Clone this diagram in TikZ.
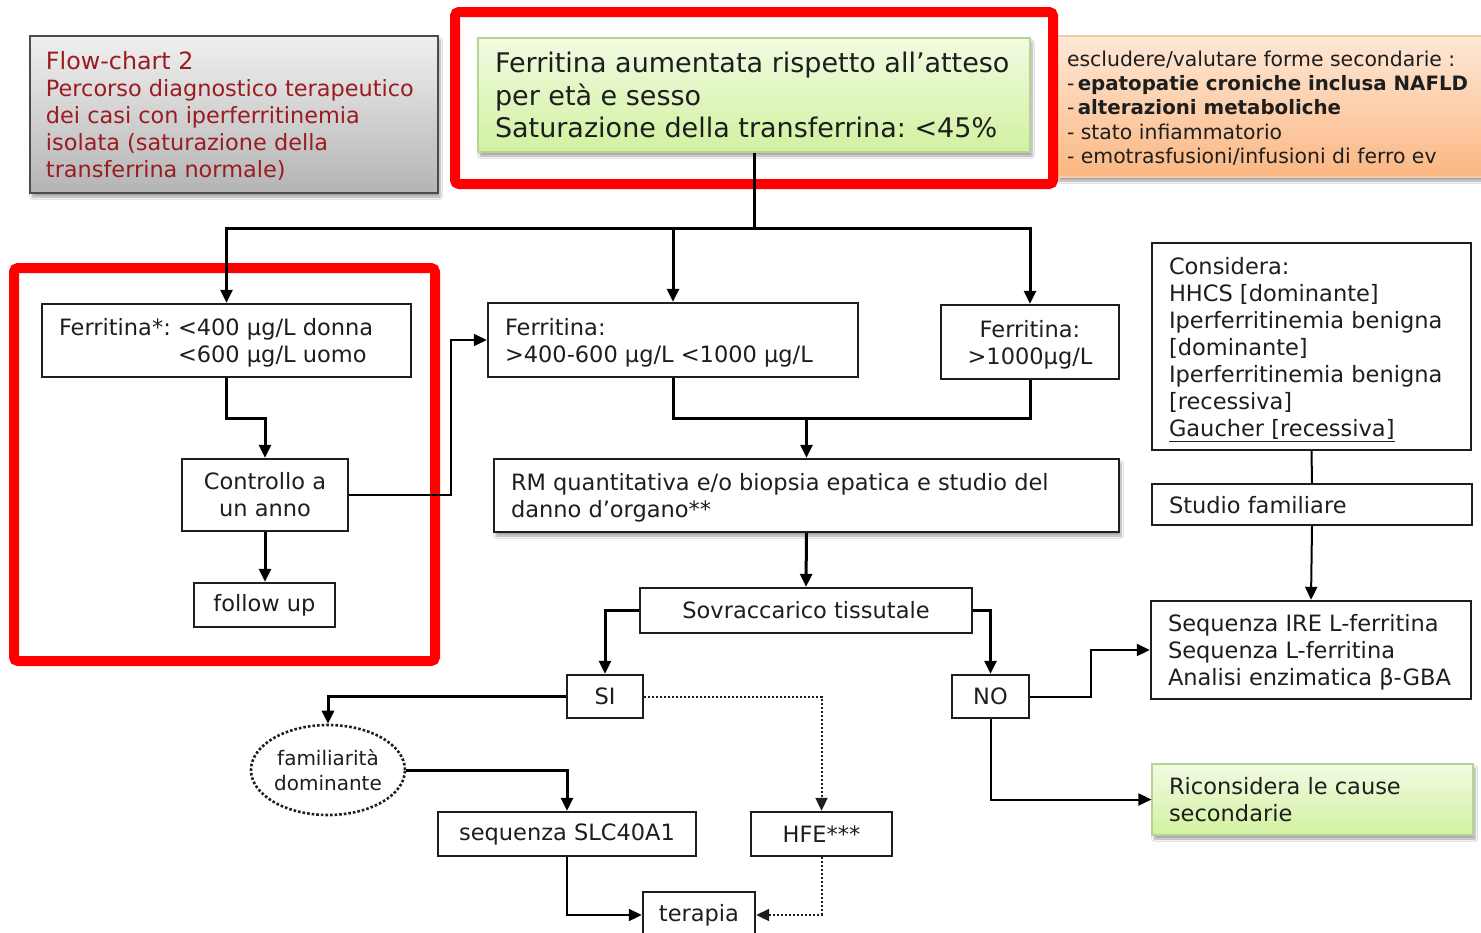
\documentclass[tikz,border=0pt]{standalone}
\usepackage{fontspec}
\setmainfont{DejaVu Sans}
\usetikzlibrary{arrows.meta,shapes.geometric,shadows,shadows.blur}

\definecolor{ink}{HTML}{1E1E1E}
\definecolor{titlered}{HTML}{9B1C20}
\definecolor{alert}{HTML}{FF0000}
\definecolor{greytop}{HTML}{F0F0F0}
\definecolor{greybot}{HTML}{B4B4B4}
\definecolor{greentop}{HTML}{F1FBE2}
\definecolor{greenbot}{HTML}{D2F1A0}
\definecolor{greenline}{HTML}{B7D394}
\definecolor{orangetop}{HTML}{FDE8D7}
\definecolor{orangebot}{HTML}{FBB782}
\definecolor{orangeline}{HTML}{F6CBA6}

% lower the ink of a block a little while keeping its size for centring
\newcommand{\lowered}[1]{\raisebox{-3.5pt}[\height][\depth]{#1}}
% left-aligned block of lines inside a fixed-width box, with a given left padding
\newcommand{\leftblock}[3]{\makebox[#1pt][l]{\hspace*{#2pt}\lowered{\begin{tabular}{@{}l@{}}#3\end{tabular}}}}

\begin{document}
\begin{tikzpicture}[x=1pt,y=-1pt,
  box/.style={draw=ink, line width=2.4pt, rectangle, fill=white, inner sep=0pt,
    text=ink, align=center, font=\fontsize{22.5}{27}\selectfont},
  softshadow/.style={blur shadow={shadow xshift=2pt, shadow yshift=-4pt,
    shadow blur steps=6, shadow opacity=35}},
  greenbox/.style={box, draw=greenline, line width=1.2pt, top color=greentop,
    bottom color=greenbot, softshadow},
  thickc/.style={draw=black, line width=3pt},
  thinc/.style={draw=black, line width=2pt},
  dotc/.style={draw=ink, line width=2pt, dotted},
  arr/.style={-{Triangle[length=13pt,width=12pt]}},
  alertframe/.style={draw=alert, line width=10pt, rounded corners=4pt}
]
\useasboundingbox (0,0) rectangle (1481,932);
\clip (0,0) rectangle (1481,932);
\fill[white] (0,0) rectangle (1481,932);

% ---------- header ----------
\node[box, draw=black!70, line width=2pt, top color=greytop, bottom color=greybot,
  softshadow, minimum width=408pt, minimum height=157pt, text=titlered,
  font=\fontsize{22.4}{27}\selectfont] (title) at (234,114.5)
  {\leftblock{408}{16}{{\fontsize{23.8}{27}\selectfont Flow-chart 2}\\
   Percorso diagnostico terapeutico\\ dei casi con iperferritinemia\\
   isolata (saturazione della\\ transferrina normale)}};

\node[greenbox, minimum width=552pt, minimum height=114pt,
  font=\fontsize{27}{32.5}\selectfont] (top) at (754,95)
  {\leftblock{552}{17}{Ferritina aumentata rispetto all’atteso\\ per età e sesso\\
   Saturazione della transferrina:~<45\%}};

\node[box, draw=orangeline, line width=1.2pt, top color=orangetop,
  bottom color=orangebot, softshadow, minimum width=433pt, minimum height=141pt,
  font=\fontsize{20.4}{24.3}\selectfont] (excl) at (1273.5,106.5)
  {\leftblock{433}{10}{escludere/valutare forme secondarie :\\
   -\,{\fontsize{19.8}{24.3}\selectfont\bfseries epatopatie croniche inclusa NAFLD}\\
   -\,{\fontsize{19.8}{24.3}\selectfont\bfseries alterazioni metaboliche}\\
   - stato infiammatorio\\
   - emotrasfusioni/infusioni di ferro ev}};

\draw[alertframe] (455,12) rectangle (1053,184);

% ---------- ferritin levels ----------
\node[box, minimum width=369pt, minimum height=73pt] (ferA) at (226.5,340.5)
  {\makebox[369pt][l]{\hspace*{17pt}\lowered{\begin{tabular}{@{}l@{\ }l@{}}Ferritina*: & <400 μg/L donna\\
   & <600 μg/L uomo\end{tabular}}}};
\node[box, minimum width=166pt, minimum height=72pt] (ctrl) at (265,495)
  {Controllo a\\ un anno};
\node[box, minimum width=141pt, minimum height=44pt] (follow) at (264.5,605) {follow up};

\node[box, minimum width=370pt, minimum height=74pt] (ferB) at (673,340)
  {\leftblock{370}{17}{Ferritina:\\ >400-600 μg/L <1000 μg/L}};
\node[box, minimum width=178pt, minimum height=74pt] (ferC) at (1030,342)
  {\lowered{\begin{tabular}{@{}c@{}}Ferritina:\\ >1000μg/L\end{tabular}}};

\draw[alertframe] (14,268) rectangle (435,661);

% ---------- organ study ----------
\node[box, softshadow, minimum width=625pt, minimum height=73pt] (rm) at (806.5,495.5)
  {\leftblock{625}{17}{RM quantitativa e/o biopsia epatica e studio del\\ danno d’organo**}};
\node[box, minimum width=332pt, minimum height=45pt] (sovr) at (806,610.5)
  {Sovraccarico tissutale};
\node[box, minimum width=76pt, minimum height=43pt] (si) at (605,696.5) {SI};
\node[box, minimum width=77pt, minimum height=43pt] (no) at (990.5,696.5) {NO};

\node[ellipse, draw=ink, line width=2.6pt, dotted, fill=white, inner sep=0pt,
  minimum width=154pt, minimum height=90pt, align=center, text=ink,
  font=\fontsize{20}{25}\selectfont] (fam) at (328,770) {familiarità\\ dominante};
\node[box, minimum width=258pt, minimum height=44pt] (slc) at (567,834) {sequenza SLC40A1};
\node[box, minimum width=141pt, minimum height=44pt] (hfe) at (821.5,834) {HFE***};
\node[box, minimum width=112pt, minimum height=46pt] (ter) at (699,915) {terapia};

% ---------- right column ----------
\node[box, minimum width=319pt, minimum height=207pt] (cons) at (1311.5,346.5)
  {\leftblock{319}{17}{Considera:\\ HHCS [dominante]\\ Iperferritinemia benigna\\
   {[dominante]}\\ Iperferritinemia benigna\\ {[recessiva]}\\ \underline{Gaucher [recessiva]}}};
\node[box, minimum width=320pt, minimum height=41pt] (stud) at (1312,504.5)
  {\leftblock{320}{17}{Studio familiare}};
\node[box, minimum width=320pt, minimum height=98pt] (seq) at (1311,650)
  {\leftblock{320}{17}{Sequenza IRE L-ferritina\\ Sequenza L-ferritina\\
   Analisi enzimatica β-GBA}};
\node[greenbox, minimum width=321pt, minimum height=71pt] (ric) at (1312.5,799.5)
  {\leftblock{321}{17}{Riconsidera le cause\\ secondarie}};

% ---------- connectors ----------
\coordinate (hub) at (754,228);
\draw[thickc] (top.south) -- (hub);
\draw[thickc, arr] (hub) -| (ferA.north);
\draw[thickc, arr] (hub) -| (ferC.north);
\draw[thickc, arr] (ferB.north |- hub) -- (ferB.north);

\draw[thickc, arr] (ferA.south) -- ++(0,40) -| (ctrl.north);
\draw[thickc, arr] (ctrl.south) -- (ctrl.south |- follow.north);
\draw[thinc, arr] (ctrl.east) -- ++(102,0) |- (ferB.west);

\coordinate (join) at (806.5,418);
\draw[thickc] (ferB.south) |- (join) -| (ferC.south);
\draw[thickc, arr] (join) -- (rm.north);
\draw[thickc, arr] (rm.south) -- (sovr.north);

\draw[thickc, arr] (sovr.west) -| (si.north);
\draw[thickc, arr] (sovr.east) -| (no.north);
\draw[thickc, arr] (si.west) -| (fam.north);
\draw[thickc, arr] (fam.east) -| (slc.north);
\draw[dotc, arr] (si.east) -| (hfe.north);
\draw[thinc, arr] (slc.south) |- (ter.west);
\draw[dotc, arr] (hfe.south) |- (ter.east);

\draw[thinc, arr] (no.east) -- ++(61,0) |- (seq.west);
\draw[thinc, arr] (no.south) |- (ric.west);
\draw[thinc] (cons.south) -- (stud.north);
\draw[thinc, arr] (stud.south) -- (seq.north);
\end{tikzpicture}
\end{document}
